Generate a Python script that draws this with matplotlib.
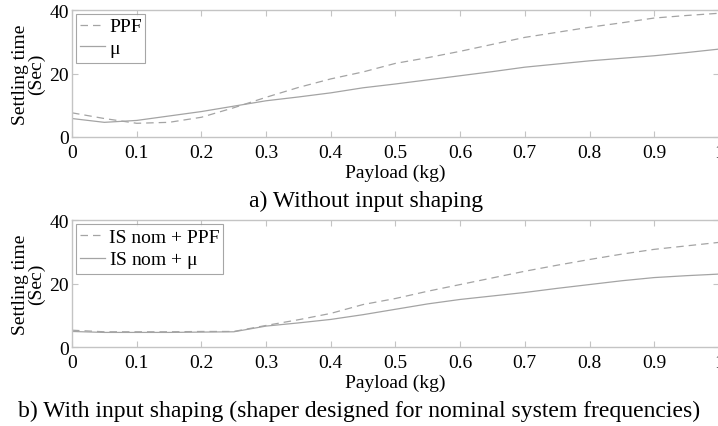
import numpy as np
import matplotlib
matplotlib.use("Agg")
import matplotlib.pyplot as plt

plt.rcParams['font.family'] = ['Liberation Serif', 'DejaVu Serif']
plt.rcParams['mathtext.fontset'] = 'stix'

# payload grid (kg)
payload = [0.0, 0.05, 0.1, 0.15, 0.2, 0.25, 0.3, 0.35, 0.4, 0.45, 0.5,
           0.55, 0.6, 0.65, 0.7, 0.75, 0.8, 0.85, 0.9, 0.95, 1.0]

# a) without input shaping
ppf_a = [7.6, 5.8, 4.3, 4.6, 6.2, 9.2, 12.5, 15.6, 18.3, 20.5, 23.2,
         25.0, 27.0, 29.2, 31.4, 33.0, 34.6, 36.0, 37.5, 38.3, 39.0]
mu_a = [5.8, 4.6, 5.2, 6.6, 8.0, 9.7, 11.4, 12.6, 13.9, 15.5, 16.7,
        18.0, 19.3, 20.6, 22.0, 23.0, 24.0, 24.8, 25.6, 26.6, 27.7]

# b) with input shaping
ppf_b = [5.3, 4.8, 4.8, 4.8, 4.9, 4.9, 6.8, 8.6, 10.6, 13.4, 15.3,
         17.6, 19.7, 21.8, 23.9, 25.8, 27.6, 29.3, 30.8, 31.9, 33.0]
mu_b = [4.9, 4.6, 4.6, 4.6, 4.7, 4.8, 6.6, 7.6, 8.7, 10.2, 11.9,
        13.6, 15.0, 16.1, 17.2, 18.5, 19.7, 20.9, 21.9, 22.5, 23.0]

xticks = [0, 0.1, 0.2, 0.3, 0.4, 0.5, 0.6, 0.7, 0.8, 0.9, 1]
xticklabels = ['0', '0.1', '0.2', '0.3', '0.4', '0.5', '0.6', '0.7', '0.8', '0.9', '1']
yticks = [0, 20, 40]

line_col = '#a4a4a4'
box_col = '#c4c4c4'

fig = plt.figure(figsize=(7.18, 4.27), dpi=100)
ax1 = fig.add_axes([0.1003, 0.677, 0.901, 0.297])
ax2 = fig.add_axes([0.1003, 0.185, 0.901, 0.297])


def style(ax, series, labels):
    ax.plot(payload, series[0], color=line_col, lw=0.9, ls=(0, (6, 4)), label=labels[0])
    ax.plot(payload, series[1], color=line_col, lw=0.9, ls='-', label=labels[1])
    ax.set_xlim(0, 1)
    ax.set_ylim(0, 40)
    ax.set_xticks(xticks)
    ax.set_xticklabels(xticklabels)
    ax.set_yticks(yticks)
    for s in ax.spines.values():
        s.set_color(box_col)
        s.set_linewidth(1.0)
    ax.tick_params(direction='in', top=True, right=True, length=4, color=box_col,
                   labelsize=14, labelcolor='black')
    ax.tick_params(axis='x', pad=5)
    ax.tick_params(axis='y', pad=2)
    ax.set_ylabel('Settling time\n(Sec)', fontsize=14, linespacing=0.95, labelpad=3)
    leg = ax.legend(loc='upper left', fontsize=14, frameon=True, fancybox=False,
                    handlelength=1.3, handletextpad=0.2, borderpad=0.2,
                    labelspacing=0.2, borderaxespad=0.2)
    leg.get_frame().set_edgecolor('#909090')
    leg.get_frame().set_linewidth(0.8)
    return ax


style(ax1, (ppf_a, mu_a), ('PPF', r'$\mathregular{\mu}$'))
style(ax2, (ppf_b, mu_b), ('IS nom + PPF', r'IS nom + $\mathregular{\mu}$'))

# x labels sit right under the tick labels
fig.text(0.5507, 0.583, 'Payload (kg)', ha='center', va='baseline', fontsize=14)
fig.text(0.5507, 0.091, 'Payload (kg)', ha='center', va='baseline', fontsize=14)

fig.text(0.51, 0.515, 'a) Without input shaping', ha='center', va='baseline', fontsize=17)
fig.text(0.5, 0.023, 'b) With input shaping (shaper designed for nominal system frequencies)',
         ha='center', va='baseline', fontsize=17)

fig.savefig('out.png', dpi=100)
